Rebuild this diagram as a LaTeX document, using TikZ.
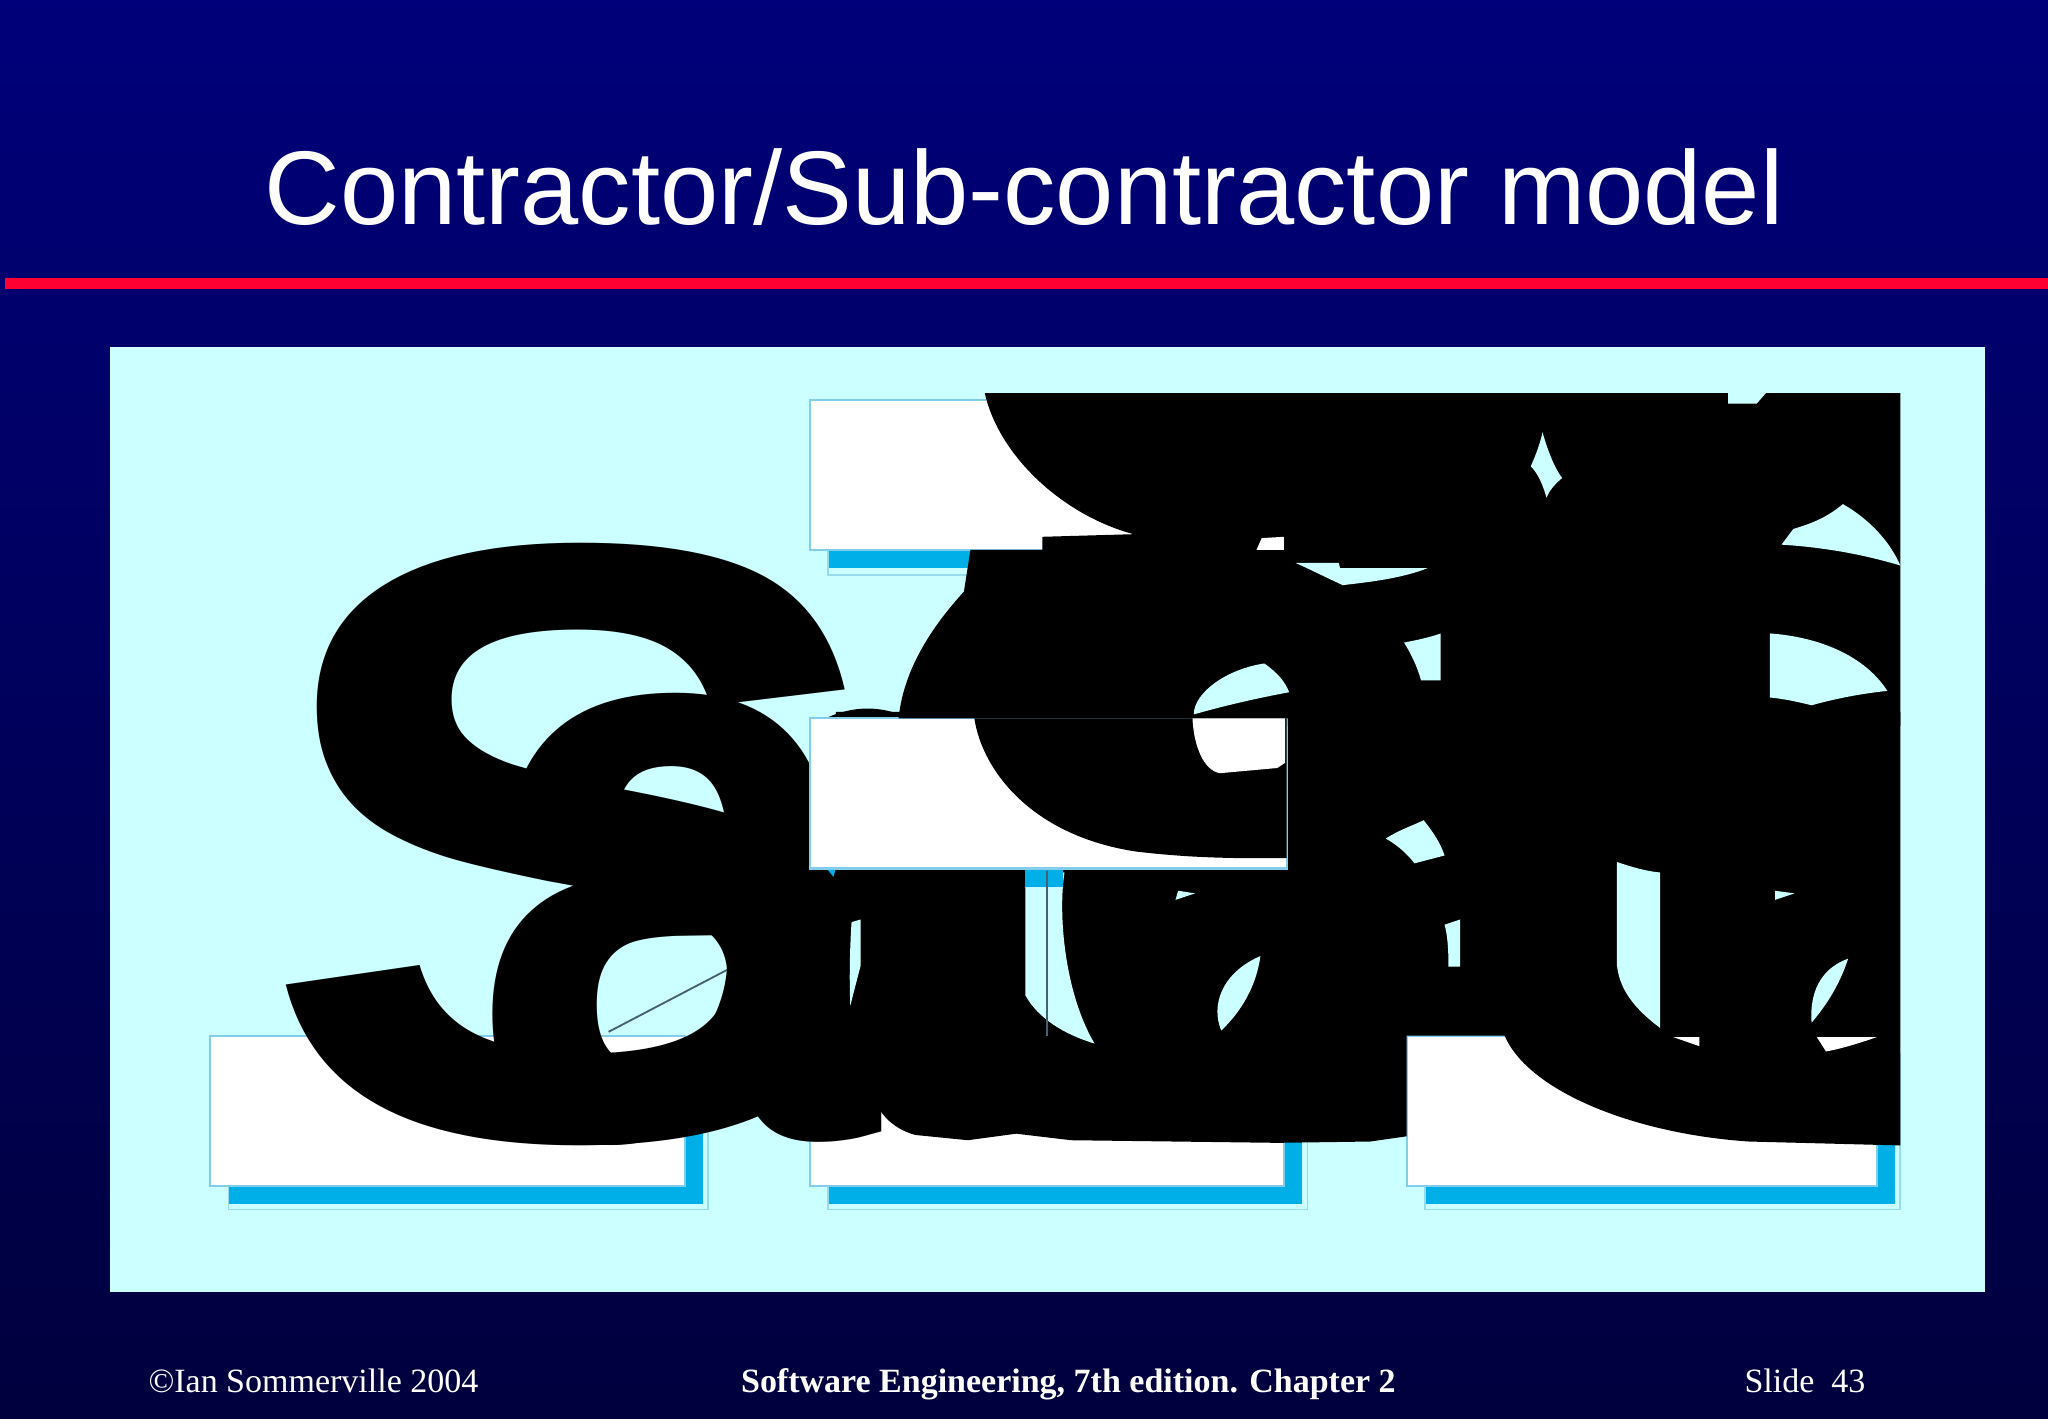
\documentclass[tikz,border=0pt]{standalone}
\usepackage{fontspec}
\setmainfont{Liberation Serif}
\newfontfamily\arialf{Liberation Sans}
\usepackage{graphicx}
\definecolor{panel}{RGB}{204,255,255}
\definecolor{shadowc}{RGB}{0,174,232}
\definecolor{boxline}{RGB}{130,205,235}
\definecolor{shline}{RGB}{150,220,238}
\definecolor{redline}{RGB}{255,0,51}
\definecolor{bgtop}{RGB}{0,0,122}
\definecolor{bgbot}{RGB}{0,0,62}
\definecolor{conn}{RGB}{70,95,115}
\tikzset{
  boxn/.style={draw=boxline, fill=white, line width=0.5pt, inner sep=0pt, outer sep=0pt, anchor=north west, minimum height=1.15cm},
  shadowfill/.style={fill=shadowc},
  shadowedge/.style={draw=shline, line width=0.4pt},
  glyph/.style={anchor=south west, inner sep=0pt, outer sep=0pt, font=\arialf\bfseries},
  ink/.style={fill=black},
  holec/.style={fill=panel},
  holew/.style={fill=white},
  connline/.style={draw=conn, line width=0.4pt},
  foot/.style={text=white, inner sep=0pt, font=\fontsize{7.4pt}{9pt}\selectfont}
}
\begin{document}
\begin{tikzpicture}[x=0.01cm,y=-0.01cm]
\useasboundingbox (0,0) rectangle (1568,1086);
\shade[top color=bgtop, bottom color=bgbot] (0,0) rectangle (1568,1086);
% title and rule
\node[anchor=base, text=white, inner sep=0pt, font=\arialf\fontsize{22.8pt}{28pt}\selectfont] (title) at (784,172) {Contractor/Sub-contractor model};
\fill[redline] (4,213) rectangle (1568,221);
% panel
\fill[panel] (84,266) rectangle (1520,989);
% bottom boxes
\fill[shadowfill] (175,807) rectangle (538,922);
\draw[shadowedge] (175,807) rectangle (542,926);
\node[boxn, minimum width=3.63cm] (bl) at (161,793) {};
\fill[shadowfill] (634,807) rectangle (997,922);
\draw[shadowedge] (634,807) rectangle (1001,926);
\node[boxn, minimum width=3.63cm] (bm) at (620,793) {};
\fill[shadowfill] (1091,807) rectangle (1451,922);
\draw[shadowedge] (1091,807) rectangle (1455,926);
\node[boxn, minimum width=3.60cm] (br) at (1077,793) {};
% middle box shadow
\fill[shadowfill] (634,564) rectangle (999,679);
% connector Sub-contractor 1 -> contractor
\coordinate (c1) at (466,790);
\coordinate (c2) at (705,665);
\draw[connline] (c1) -- (c2);
% huge glyphs of the bottom line
\node[glyph] (gS) at (198,877) {\resizebox*{4.90cm}{4.61cm}{S}};
\node[glyph] (ga) at (361,877) {\resizebox*{3.10cm}{3.46cm}{a}};
\fill[ink] (630,551) .. controls (650,541) and (670,540) .. (689,547) -- (689,551) -- cycle;
% top box
\fill[shadowfill] (634,320) rectangle (999,435);
\draw[shadowedge] (634,320) rectangle (1003,440);
\node[boxn, minimum width=3.65cm] (top) at (620,306) {};
% lower black mass
\fill[ink] (640,545) -- (1455,545) -- (1455,877) -- (1339,874)
  .. controls (1250,868) and (1170,835) .. (1152,793) -- (1077,793) -- (1077,870)
  -- (1049,874) -- (978,875) -- (899,874) -- (820,873) -- (778,868) -- (741,873) -- (701,869)
  .. controls (682,864) and (670,850) .. (667,833) .. controls (655,840) and (645,848) .. (630,856)
  -- (630,700) -- (640,665) -- cycle;
% holes in the lower mass
\fill[holec] (785,665) -- (815,668) .. controls (810,700) and (815,760) .. (838,799)
  .. controls (815,792) and (795,780) .. (785,762) -- cycle;
\fill[shadowfill] (785,665) rectangle (814,679);
\fill[holec] (652,706) -- (659,704) -- (659,739) -- (651,770) .. controls (650,745) and (651,720) .. (652,706) -- cycle;
\fill[holec] (900,689) -- (902,682) -- (915,684) -- cycle;
\fill[holec] (935,789) .. controls (927,770) and (935,745) .. (965,732) .. controls (962,755) and (950,775) .. (935,789) -- cycle;
\fill[holec] (1061,642) .. controls (1072,635) and (1082,632) .. (1090,628) .. controls (1098,638) and (1103,646) .. (1106,655)
  -- (1083,661) .. controls (1076,652) and (1068,646) .. (1061,642) -- cycle;
\fill[holec] (1106,708) -- (1118,704) -- (1118,740) -- (1109,740) .. controls (1109,725) and (1108,715) .. (1106,708) -- cycle;
\fill[holec] (1238,660) .. controls (1250,664) and (1260,667) .. (1271,668) -- (1271,787)
  .. controls (1255,775) and (1240,760) .. (1238,739) -- cycle;
\fill[holec] (1359,682) -- (1374,684) -- (1359,689) -- cycle;
\fill[holec] (1387,783) .. controls (1385,755) and (1398,740) .. (1415,734) .. controls (1408,755) and (1398,770) .. (1387,783) -- cycle;
\fill[holew] (1281,794) -- (1301,794) -- (1301,801) -- cycle;
\fill[holew] (1391,794) -- (1437,794) .. controls (1420,800) and (1405,804) .. (1398,805) -- cycle;
% middle box
\node[boxn, minimum width=3.65cm] (mid) at (620,550) {};
\begin{scope}
  \clip (785,665) -- (815,668) .. controls (810,700) and (815,760) .. (838,799) -- (838,800) -- (785,800) -- cycle;
  \draw[connline] (bm.north) -- (bm.north |- mid.south);
\end{scope}
% upper black mass
\fill[ink] (754,301) -- (1455,301) -- (1455,556) -- (986,556) -- (986,550) -- (688,550)
  .. controls (691,520) and (706,488) .. (738,453) -- (743,421) -- (798,421) -- (798,411) -- (868,409)
  .. controls (815,395) and (765,350) .. (754,301) -- cycle;
% black bowl over the middle box
\fill[ink] (746,550) .. controls (752,590) and (790,640) .. (870,652)
  .. controls (920,658) and (960,657) .. (985,657) -- (985,550) -- cycle;
% holes in the upper mass
\fill[holew] (913,550) .. controls (914,572) and (922,590) .. (934,592) -- (978,588) -- (984,584) -- (984,550) -- cycle;
\fill[holec] (914,547) .. controls (914,530) and (940,512) .. (968,508) .. controls (978,515) and (984,522) .. (987,530)
  .. controls (960,535) and (935,541) .. (914,547) -- cycle;
\fill[holew] (962,421) -- (966,412) -- (983,411) -- (983,421) -- cycle;
\fill[holec] (1323,301) -- (1352,301) -- (1345,309) -- (1323,309) -- cycle;
\fill[holec] (1181,331) .. controls (1185,345) and (1190,358) .. (1196,366) .. controls (1190,371) and (1186,376) .. (1184,381)
  .. controls (1181,370) and (1177,362) .. (1172,357) .. controls (1176,348) and (1179,340) .. (1181,331) -- cycle;
\fill[holec] (1364,417) -- (1373,405) .. controls (1390,400) and (1400,395) .. (1411,386)
  .. controls (1432,398) and (1447,415) .. (1455,433) .. controls (1425,424) and (1395,419) .. (1364,417) -- cycle;
\fill[holec] (992,431) -- (1025,431) -- (1026,435) -- (1093,435) .. controls (1075,442) and (1055,445) .. (1028,448)
  .. controls (1015,442) and (1003,436) .. (992,431) -- cycle;
\fill[holec] (1075,492) .. controls (1085,490) and (1095,488) .. (1103,485) -- (1103,521) -- (1088,521)
  .. controls (1085,510) and (1080,500) .. (1075,492) -- cycle;
\fill[holec] (1355,485) .. controls (1385,487) and (1425,498) .. (1445,529) .. controls (1425,531) and (1405,535) .. (1387,540)
  .. controls (1375,537) and (1365,535) .. (1355,534) -- cycle;
% footer
\node[foot, anchor=base west] (f1) at (113,1066) {©Ian Sommerville 2004};
\node[foot, anchor=base, font=\fontsize{7.4pt}{9pt}\selectfont\bfseries] (f2) at (818,1066) {Software Engineering, 7th edition. Chapter 2};
\node[foot, anchor=base west] (f3) at (1335,1066) {Slide\ \ 43};
\end{tikzpicture}
\end{document}
